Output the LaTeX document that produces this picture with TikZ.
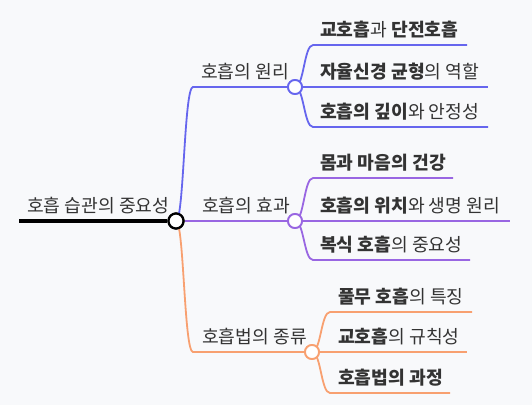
\documentclass[tikz,border=0pt]{standalone}
\usepackage{fontspec}
\setmainfont{Noto Sans CJK KR}
\begin{document}
\definecolor{bgc}{RGB}{248,249,251}
\definecolor{cB}{RGB}{102,102,238}
\definecolor{cP}{RGB}{153,102,226}
\definecolor{cO}{RGB}{248,160,112}
\definecolor{txt}{RGB}{51,51,51}
\begin{tikzpicture}[x=1pt,y=-1pt,
  lbl/.style={anchor=base west, inner sep=0pt, text=txt, font=\fontsize{18.2}{20}\selectfont},
  dot/.style={circle, fill=white, line width=1.8pt, minimum size=14pt, inner sep=0pt},
  lnk/.style={line width=1.8pt}]
\fill[bgc] (0,0) rectangle (532,405);
\useasboundingbox (0,0) rectangle (532,405);
% root
\coordinate (r0) at (19,221);
\node[dot, draw=black, line width=2.2pt, minimum size=15pt] (r) at (176,221) {};
\draw[line width=3.2pt] (r0) -- (r.west);
\node[lbl] (rt) at (27,212) {호흡 습관의 중요성};
% branch 1
\coordinate (a0) at (193,87);
\node[dot, draw=cB] (a) at (295,87) {};
\draw[lnk, cB] (r.center) .. controls (184,221) and (184,87) .. (a0) -- (a.west);
\node[lbl] (at) at (201,78) {호흡의 원리};
\coordinate (a1) at (313,45); \coordinate (a1e) at (467,45);
\coordinate (a2) at (313,87); \coordinate (a2e) at (488,87);
\coordinate (a3) at (313,127); \coordinate (a3e) at (488,127);
\draw[lnk, cB] (a.center) .. controls (304,87) and (304,45) .. (a1) -- (a1e);
\draw[lnk, cB] (a.east) -- (a2e);
\draw[lnk, cB] (a.center) .. controls (304,87) and (304,127) .. (a3) -- (a3e);
\node[lbl] (a1t) at (320,36) {\textbf{교호흡}과 \textbf{단전호흡}};
\node[lbl] (a2t) at (320,78) {\textbf{자율신경 균형}의 역할};
\node[lbl] (a3t) at (320,118) {\textbf{호흡의 깊이}와 안정성};
% branch 2
\node[dot, draw=cP] (b) at (295,221) {};
\draw[lnk, cP] (r.east) -- (b.west);
\node[lbl] (bt) at (202,212) {호흡의 효과};
\coordinate (b1) at (313,178); \coordinate (b1e) at (453,178);
\coordinate (b2e) at (510,221);
\coordinate (b3) at (313,260); \coordinate (b3e) at (470,260);
\draw[lnk, cP] (b.center) .. controls (304,221) and (304,178) .. (b1) -- (b1e);
\draw[lnk, cP] (b.east) -- (b2e);
\draw[lnk, cP] (b.center) .. controls (304,221) and (304,260) .. (b3) -- (b3e);
\node[lbl] (b1t) at (320,169) {\textbf{몸과 마음의 건강}};
\node[lbl] (b2t) at (320,212) {\textbf{호흡의 위치}와 생명 원리};
\node[lbl] (b3t) at (320,251) {\textbf{복식 호흡}의 중요성};
% branch 3
\coordinate (c0) at (193,352);
\node[dot, draw=cO] (c) at (312,352) {};
\draw[lnk, cO] (r.center) .. controls (184,221) and (184,352) .. (c0) -- (c.west);
\node[lbl] (ct) at (202,343) {호흡법의 종류};
\coordinate (c1) at (330,312); \coordinate (c1e) at (472,312);
\coordinate (c2e) at (467,352);
\coordinate (c3) at (330,393); \coordinate (c3e) at (450,393);
\draw[lnk, cO] (c.center) .. controls (321,352) and (321,312) .. (c1) -- (c1e);
\draw[lnk, cO] (c.east) -- (c2e);
\draw[lnk, cO] (c.center) .. controls (321,352) and (321,393) .. (c3) -- (c3e);
\node[lbl] (c1t) at (338,303) {\textbf{풀무 호흡}의 특징};
\node[lbl] (c2t) at (338,343) {\textbf{교호흡}의 규칙성};
\node[lbl] (c3t) at (338,384) {\textbf{호흡법의 과정}};
% redraw circles on top
\node[dot, draw=black, line width=2.2pt, minimum size=15pt] at (r.center) {};
\node[dot, draw=cB] at (a.center) {};
\node[dot, draw=cP] at (b.center) {};
\node[dot, draw=cO] at (c.center) {};
\end{tikzpicture}
\end{document}
